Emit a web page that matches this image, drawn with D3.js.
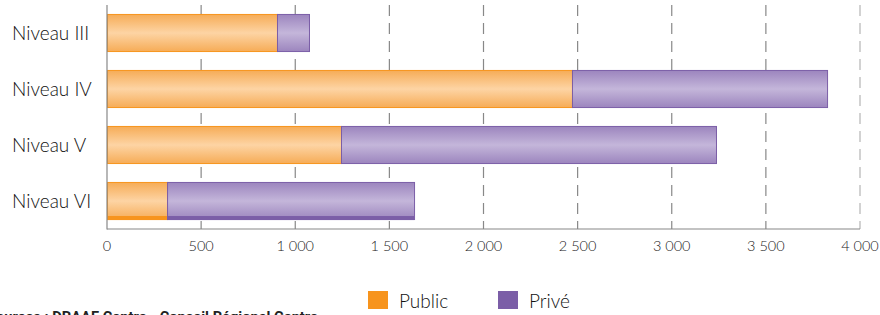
<!DOCTYPE html>
<html><head><meta charset="utf-8">
<script src="https://cdn.jsdelivr.net/npm/d3@7"></script>
<style>
html,body{margin:0;padding:0;background:#fff;overflow:hidden}
svg{display:block}
</style></head>
<body>
<svg id="c" width="880" height="315"></svg>
<script>
const categories = ["Niveau III", "Niveau IV", "Niveau V", "Niveau VI"];
const publicValues = [903, 2470, 1243, 319];
const priveValues = [170, 1355, 1992, 1312];
const tickValues = [0, 500, 1000, 1500, 2000, 2500, 3000, 3500, 4000];
const seriesNames = ["Public", "Privé"];
const sourceText = "Sources : DRAAF Centre - Conseil Régional Centre";

const svg = d3.select("#c");
const font = "Lato, 'Open Sans', sans-serif";

const x = d3.scaleLinear().domain([0, 4000]).range([107, 860]);
const y = d3.scaleBand().domain(categories).range([5, 229]).paddingInner(0.32).paddingOuter(0.16);

const defs = svg.append("defs");
function grad(id, edge, mid) {
  const g = defs.append("linearGradient").attr("id", id).attr("x1", 0).attr("y1", 0).attr("x2", 0).attr("y2", 1);
  g.append("stop").attr("offset", "0%").attr("stop-color", edge);
  g.append("stop").attr("offset", "50%").attr("stop-color", mid);
  g.append("stop").attr("offset", "100%").attr("stop-color", edge);
}
grad("gPub", "#F6AC57", "#FDD4A4");
grad("gPri", "#9C85BE", "#C4B6DA");

// grid lines
svg.append("g").selectAll("line").data(tickValues.slice(1)).join("line")
  .attr("x1", d => x(d)).attr("x2", d => x(d))
  .attr("y1", 5).attr("y2", 229)
  .attr("stroke", d => d === 4000 ? "#b5b5b5" : "#888")
  .attr("stroke-width", 1.2)
  .attr("stroke-dasharray", "11 7");

const rows = categories.map((c, i) => ({c, pub: publicValues[i], pri: priveValues[i]}));

const bars = svg.append("g");
bars.selectAll("rect.pub").data(rows).join("rect").attr("class", "pub")
  .attr("x", x(0) + 0.5).attr("y", d => y(d.c) + 0.5)
  .attr("width", d => x(d.pub) - x(0)).attr("height", y.bandwidth() - 1)
  .attr("fill", "url(#gPub)").attr("stroke", "#F7941D").attr("stroke-width", 1);
bars.selectAll("rect.pri").data(rows).join("rect").attr("class", "pri")
  .attr("x", d => x(d.pub) + 0.5).attr("y", d => y(d.c) + 0.5)
  .attr("width", d => x(d.pub + d.pri) - x(d.pub)).attr("height", y.bandwidth() - 1)
  .attr("fill", "url(#gPri)").attr("stroke", "#7B5EA7").attr("stroke-width", 1);

// thicker bottom edge on last category
const last = rows[rows.length - 1];
bars.append("rect").attr("x", x(0)).attr("y", y(last.c) + y.bandwidth() - 4)
  .attr("width", x(last.pub) - x(0)).attr("height", 4).attr("fill", "#F7941D");
bars.append("rect").attr("x", x(last.pub)).attr("y", y(last.c) + y.bandwidth() - 4)
  .attr("width", x(last.pub + last.pri) - x(last.pub)).attr("height", 4).attr("fill", "#7B5EA7");

// axes lines
svg.append("line").attr("x1", 107).attr("x2", 107).attr("y1", 5).attr("y2", 229.5)
  .attr("stroke", "#888").attr("stroke-width", 1.2);
svg.append("line").attr("x1", 107).attr("x2", 860).attr("y1", 229).attr("y2", 229)
  .attr("stroke", "#888").attr("stroke-width", 1.2);

// x tick labels
const fmt = d => d3.format(",")(d).replace(/,/g, " ");
svg.append("g").selectAll("text").data(tickValues).join("text")
  .attr("x", d => x(d)).attr("y", 251)
  .attr("text-anchor", "middle")
  .attr("font-family", font).attr("font-weight", 300).attr("font-size", 14.5).attr("fill", "#222")
  .text(fmt);

// category labels
svg.append("g").selectAll("text").data(categories).join("text")
  .attr("x", 12).attr("y", d => y(d) + y.bandwidth() / 2 + 6.5)
  .attr("font-family", font).attr("font-weight", 300).attr("font-size", 19).attr("fill", "#111")
  .text(d => d);

// legend
const legendColors = ["#F7941D", "#7B5EA7"];
const legX = [368, 498];
const lg = svg.append("g");
seriesNames.forEach((s, i) => {
  lg.append("rect").attr("x", legX[i]).attr("y", 291).attr("width", 20).attr("height", 18).attr("fill", legendColors[i]);
  lg.append("text").attr("x", legX[i] + 31).attr("y", 308)
    .attr("font-family", font).attr("font-weight", 300).attr("font-size", 19).attr("fill", "#111").text(s);
});

// source (clipped at the left/bottom edge as in the reference)
svg.append("text").attr("x", -13).attr("y", 322)
  .attr("textLength", 331).attr("lengthAdjust", "spacingAndGlyphs")
  .attr("font-family", "'Liberation Sans Narrow', 'Roboto', sans-serif").attr("font-weight", "bold")
  .attr("font-size", 14).attr("fill", "#222").text(sourceText);
</script>
</body></html>
